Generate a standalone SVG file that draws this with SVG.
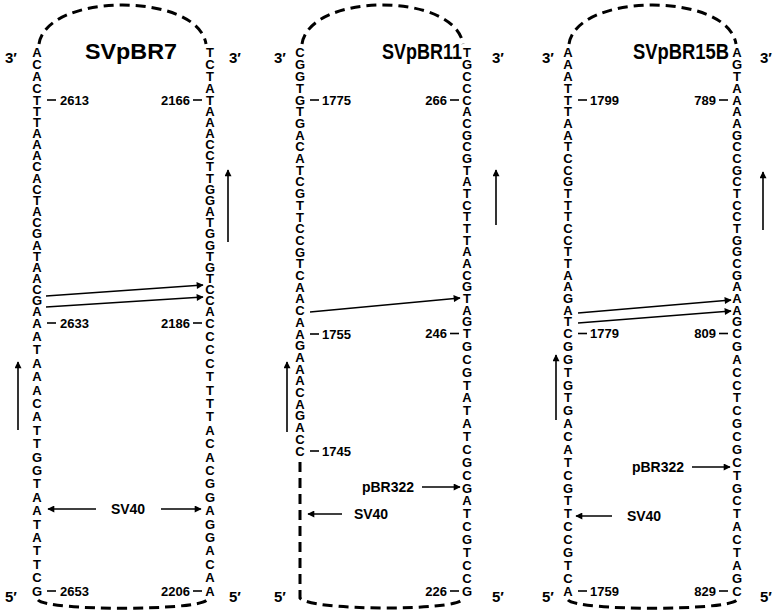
<svg xmlns="http://www.w3.org/2000/svg" width="773" height="611" viewBox="0 0 773 611">
<style>
text{font-family:"Liberation Sans",Arial,sans-serif;font-weight:bold;fill:#000}
.seq{font-size:13px;text-anchor:middle}
.num{font-size:13px}
.end{text-anchor:end}
.title{font-size:22px;text-anchor:middle}
.pr{font-size:15px}
.lbl{font-size:14px;text-anchor:middle}
.dash{fill:none;stroke:#000;stroke-width:3;stroke-dasharray:10 6}
.ar{fill:none;stroke:#000;stroke-width:1.6;marker-end:url(#ah)}
.tick{stroke:#000;stroke-width:1.6}
</style>
<defs>
<marker id="ah" viewBox="0 0 10 10" refX="9" refY="5" markerWidth="11" markerHeight="7" orient="auto" markerUnits="userSpaceOnUse"><path d="M0,0 L10,5 L0,10 z" fill="#000"/></marker>
</defs>
<g id="outlines">
<path class="dash" d="M39 44 C47 -8 198 -8 206 44"/>
<path class="dash" d="M38 600 C48 611 197 611 207 600"/>
<path class="dash" d="M302 44 C310 -8 455 -8 463 44"/>
<path class="dash" d="M300 462 L300 598 C310 611 452 611 462 600"/>
<path class="dash" d="M569 44 C577 -8 728 -8 736 44"/>
<path class="dash" d="M568 600 C578 611 727 611 737 600"/>
</g>
<g id="SVpBR7">
<text class="title" x="131" y="59" textLength="92" lengthAdjust="spacingAndGlyphs">SVpBR7</text>
<text class="pr" x="5" y="63">3′</text>
<text class="pr" x="229" y="63">3′</text>
<text class="pr" x="5" y="602">5′</text>
<text class="pr" x="229" y="602">5′</text>
<text class="seq" x="37 37 37 37 37 37 37 37 37 37 37 37 37 37 37 37 37 37 37 37 37 37 37 37 37 37 37 37 37 37 37 37 37 37 37 37 37 37 37 37 37 37 37 37 37" y="56.5 68.5 80.5 92.5 104.5 115.7 126.8 138 149.1 160.3 171.4 182.6 193.7 204.9 216 227.2 238.3 249.5 260.6 271.8 282.9 294.1 305.2 316.4 327.5 340.9 354.3 367.7 381.1 394.5 407.9 421.3 434.7 448.1 461.5 474.9 488.3 501.7 515.1 528.5 541.9 555.3 568.7 582.1 595.5">ACACTTTAAACACTACGATAACGAAATAAACATTGGTAATATTCG</text>
<text class="seq" x="210 210 210 210 210 210 210 210 210 210 210 210 210 210 210 210 210 210 210 210 210 210 210 210 210 210 210 210 210 210 210 210 210 210 210 210 210 210 210 210 210 210 210 210 210" y="56.5 68.5 80.5 92.5 104.5 115.7 126.8 138 149.1 160.3 171.4 182.6 193.7 204.9 216 227.2 238.3 249.5 260.6 271.8 282.9 294.1 305.2 316.4 327.5 340.9 354.3 367.7 381.1 394.5 407.9 421.3 434.7 448.1 461.5 474.9 488.3 501.7 515.1 528.5 541.9 555.3 568.7 582.1 595.5">TCTATAAACCTTGGATGGTGTCCACCCCTTTTACACGGAGGACAA</text>
<line class="tick" x1="47" y1="100" x2="56" y2="100"/><text class="num" x="60" y="104.5">2613</text>
<line class="tick" x1="47" y1="323" x2="56" y2="323"/><text class="num" x="60" y="327.5">2633</text>
<line class="tick" x1="47" y1="591" x2="56" y2="591"/><text class="num" x="60" y="595.5">2653</text>
<text class="num end" x="190" y="104.5">2166</text><line class="tick" x1="193" y1="100" x2="202" y2="100"/>
<text class="num end" x="190" y="327.5">2186</text><line class="tick" x1="193" y1="323" x2="202" y2="323"/>
<text class="num end" x="190" y="595.5">2206</text><line class="tick" x1="193" y1="591" x2="202" y2="591"/>
<text class="lbl" x="128" y="514">SV40</text>
</g>
<g id="SVpBR11">
<text class="title" x="422" y="59" textLength="80" lengthAdjust="spacingAndGlyphs">SVpBR11</text>
<text class="pr" x="274" y="63">3′</text>
<text class="pr" x="492" y="63">3′</text>
<text class="pr" x="274" y="602">5′</text>
<text class="pr" x="492" y="602">5′</text>
<text class="seq" x="300 300 300 300 300 300 300 300 300 300 300 300 300 300 300 300 300 300 300 300 300 300 300 300 300 300 300 300 300 300 300 300 300 300 300" y="56.5 68.5 80.5 92.5 104.5 116.2 127.9 139.6 151.3 163 174.7 186.4 198.1 209.8 221.5 233.2 244.9 256.6 268.3 280 291.7 303.4 315.1 326.8 338.5 350.2 361.9 373.6 385.3 397 408.7 420.4 432.1 443.8 455.5">CGGTGTGACATCGTTCCGTCAACAAGAAACAGACC</text>
<text class="seq" x="467 467 467 467 467 467 467 467 467 467 467 467 467 467 467 467 467 467 467 467 467 467 467 467 467 467 467 467 467 467 467 467 467 467 467 467 467 467 467 467 467 467 467 467 467" y="56.5 68.5 80.5 92.5 104.5 116.2 127.9 139.5 151.2 162.9 174.6 186.2 197.9 209.6 221.3 232.9 244.6 256.3 268 279.6 291.3 303 314.7 326.3 338 350.9 363.8 376.6 389.5 402.4 415.3 428.1 441 453.9 466.8 479.6 492.5 505.4 518.3 531.1 544 556.9 569.8 582.6 595.5">TGCCCACGCGTATCTTTAACGTAGTGCGTATATCGCGATCGTCCG</text>
<line class="tick" x1="310" y1="100" x2="319" y2="100"/><text class="num" x="322" y="104.5">1775</text>
<line class="tick" x1="310" y1="334" x2="319" y2="334"/><text class="num" x="322" y="338.5">1755</text>
<line class="tick" x1="310" y1="451" x2="319" y2="451"/><text class="num" x="322" y="455.5">1745</text>
<text class="num end" x="447" y="104.5">266</text><line class="tick" x1="450" y1="100" x2="459" y2="100"/>
<text class="num end" x="447" y="338">246</text><line class="tick" x1="450" y1="333.5" x2="459" y2="333.5"/>
<text class="num end" x="447" y="595.5">226</text><line class="tick" x1="450" y1="591" x2="459" y2="591"/>
<text class="lbl" x="388" y="492">pBR322</text>
<text class="lbl" x="371" y="519">SV40</text>
</g>
<g id="SVpBR15B">
<text class="title" x="681" y="59" textLength="96" lengthAdjust="spacingAndGlyphs">SVpBR15B</text>
<text class="pr" x="542" y="63">3′</text>
<text class="pr" x="760" y="63">3′</text>
<text class="pr" x="542" y="602">5′</text>
<text class="pr" x="760" y="602">5′</text>
<text class="seq" x="568 568 568 568 568 568 568 568 568 568 568 568 568 568 568 568 568 568 568 568 568 568 568 568 568 568 568 568 568 568 568 568 568 568 568 568 568 568 568 568 568 568 568 568 568" y="56.5 68.5 80.5 92.5 104.5 116.2 127.9 139.5 151.2 162.9 174.6 186.2 197.9 209.6 221.3 232.9 244.6 256.3 268 279.6 291.3 303 314.7 326.3 338 350.9 363.8 376.6 389.5 402.4 415.3 428.1 441 453.9 466.8 479.6 492.5 505.4 518.3 531.1 544 556.9 569.8 582.6 595.5">AAATTTAATCCGTTTCCTTAAGATCGGTGTGACATCGTTCCGTCA</text>
<text class="seq" x="737 737 737 737 737 737 737 737 737 737 737 737 737 737 737 737 737 737 737 737 737 737 737 737 737 737 737 737 737 737 737 737 737 737 737 737 737 737 737 737 737 737 737 737 737" y="56.5 68.5 80.5 92.5 104.5 116.2 127.9 139.5 151.2 162.9 174.6 186.2 197.9 209.6 221.3 232.9 244.6 256.3 268 279.6 291.3 303 314.7 326.3 338 350.9 363.8 376.6 389.5 402.4 415.3 428.1 441 453.9 466.8 479.6 492.5 505.4 518.3 531.1 544 556.9 569.8 582.6 595.5">AGTAAAAGCCGCTCCTGGCGAAAGCGACCTCGCGCTGCTACTAGC</text>
<line class="tick" x1="578" y1="100" x2="587" y2="100"/><text class="num" x="590" y="104.5">1799</text>
<line class="tick" x1="578" y1="333.5" x2="587" y2="333.5"/><text class="num" x="590" y="338">1779</text>
<line class="tick" x1="578" y1="591" x2="587" y2="591"/><text class="num" x="590" y="595.5">1759</text>
<text class="num end" x="716" y="104.5">789</text><line class="tick" x1="719" y1="100" x2="728" y2="100"/>
<text class="num end" x="716" y="338">809</text><line class="tick" x1="719" y1="333.5" x2="728" y2="333.5"/>
<text class="num end" x="716" y="595.5">829</text><line class="tick" x1="719" y1="591" x2="728" y2="591"/>
<text class="lbl" x="658" y="472">pBR322</text>
<text class="lbl" x="644" y="521">SV40</text>
</g>
<g id="connectors">
<line class="ar" x1="46" y1="296" x2="203" y2="285"/>
<line class="ar" x1="46" y1="307" x2="203" y2="297"/>
<line class="ar" x1="18" y1="430" x2="18" y2="362"/>
<line class="ar" x1="228" y1="242" x2="228" y2="170"/>
<line class="ar" x1="96" y1="509" x2="48" y2="509"/>
<line class="ar" x1="161" y1="509" x2="201" y2="509"/>
<line class="ar" x1="310" y1="312" x2="460" y2="298"/>
<line class="ar" x1="287" y1="432" x2="287" y2="362"/>
<line class="ar" x1="496" y1="225" x2="496" y2="170"/>
<line class="ar" x1="422" y1="487" x2="460" y2="487"/>
<line class="ar" x1="342" y1="514" x2="308" y2="514"/>
<line class="ar" x1="578" y1="313" x2="731" y2="300"/>
<line class="ar" x1="578" y1="323" x2="731" y2="311"/>
<line class="ar" x1="556" y1="420" x2="556" y2="355"/>
<line class="ar" x1="763" y1="230" x2="763" y2="172"/>
<line class="ar" x1="692" y1="467" x2="730" y2="467"/>
<line class="ar" x1="612" y1="516" x2="576" y2="516"/>
</g>
</svg>
